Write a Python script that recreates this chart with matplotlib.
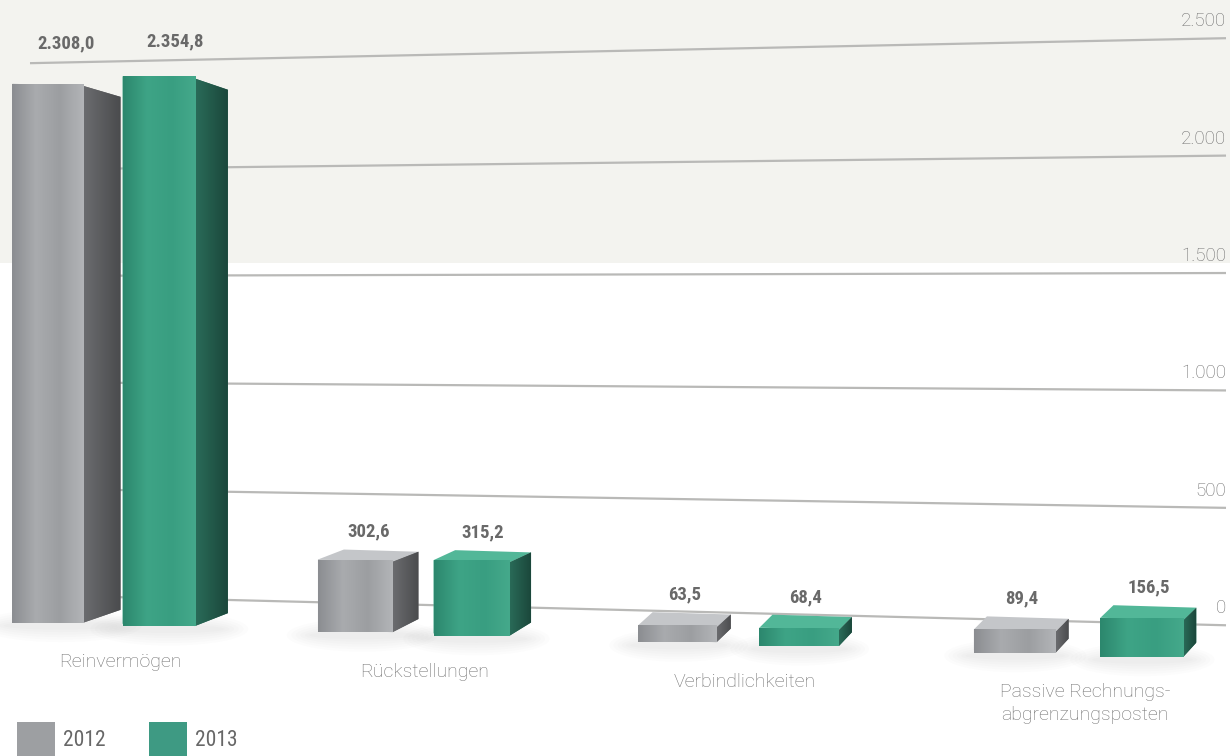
import math
import numpy as np
import matplotlib
matplotlib.use("Agg")
import matplotlib.pyplot as plt
from matplotlib import font_manager as fm
from matplotlib.patches import Polygon, Rectangle, Ellipse
from matplotlib.transforms import Affine2D
from matplotlib.colors import LinearSegmentedColormap

# ---------------------------------------------------------------- data
categories = ["Reinvermögen", "Rückstellungen", "Verbindlichkeiten",
              "Passive Rechnungs-\nabgrenzungsposten"]
years = ["2012", "2013"]
values_2012 = [2308.0, 302.6, 63.5, 89.4]
values_2013 = [2354.8, 315.2, 68.4, 156.5]
y_ticks = [0, 500, 1000, 1500, 2000, 2500]

# ---------------------------------------------------------------- fonts
names = {f.name for f in fm.fontManager.ttflist}
narrow_family, narrow_stretch = "DejaVu Sans", "condensed"
for cand in ["Liberation Sans Narrow", "Roboto Condensed", "Open Sans Condensed",
             "DejaVu Sans Condensed", "Noto Sans Condensed"]:
    if cand in names:
        narrow_family, narrow_stretch = cand, "normal"
        break
else:
    for fam in ["Roboto", "Open Sans", "Noto Sans", "DejaVu Sans"]:
        if any(f.name == fam and f.stretch in ("condensed", "semi-condensed", 500, 300)
               for f in fm.fontManager.ttflist):
            narrow_family = fam
            break
NARROW = dict(family=narrow_family, fontstretch=narrow_stretch)

# ---------------------------------------------------------------- styles
W, H, DPI = 1230, 756, 100
BAND = "#f3f3ef"
GRID = "#b9b9b7"
TXT = "#707070"
VAL = "#696969"
series_style = {
    "2012": dict(front=["#8b8d91", "#a9abae", "#9c9ea1", "#b3b5b8"],
                 side=["#6b6c6f", "#4a4b4d"], top="#c4c6c9", swatch="#9d9fa2"),
    "2013": dict(front=["#2c876d", "#3ea486", "#399e81", "#45a98b"],
                 side=["#2a6c59", "#1b473b"], top="#52b798", swatch="#3e9a83"),
}

fig = plt.figure(figsize=(W / DPI, H / DPI), dpi=DPI)
fig.patch.set_facecolor("white")

# pixel canvas (origin top-left) for background, grid and annotations
bg = fig.add_axes([0, 0, 1, 1])
bg.set_xlim(0, W)
bg.set_ylim(H, 0)
bg.axis("off")
pix = bg.transData

# shaded upper band
bg.add_patch(Rectangle((0, 0), W, 263, facecolor=BAND, edgecolor="none", zorder=0))


# receding floor grid: value v at horizontal pixel x
def grid_y(v, x):
    y0 = 600 + 17 * (x - 230) / 670
    s = 0.2164 + 0.0124 * (x - 230) / 670
    return y0 - s * v


GX0, GX1 = 30, 1226
for v in y_ticks:
    bg.plot([GX0, GX1], [grid_y(v, GX0), grid_y(v, GX1)], color=GRID, lw=1.6,
            solid_capstyle="butt", zorder=1)
    lab = f"{v:,.0f}".replace(",", ".")
    bg.text(GX1, grid_y(v, GX1) - 8, lab, ha="right", va="bottom", fontsize=13.5,
            color=TXT, family="Roboto", fontweight="light", zorder=2)

# ---------------------------------------------------------------- bars
ax = fig.add_axes([0, 0, 1, 1], facecolor="none")
ax.axis("off")

# category axis widens towards the right (perspective)
PA, PB = 302.5, 7.5


def persp_fwd(x):
    x = np.asarray(x, dtype=float)
    return PA * x + PB * x * x


def persp_inv(p):
    p = np.asarray(p, dtype=float)
    return (-PA + np.sqrt(np.maximum(PA * PA + 4 * PB * p, 0.0))) / (2 * PB)


ax.set_xscale("function", functions=(persp_fwd, persp_inv))
SCALE = 0.2325        # pixels per value unit
X0, BASE0 = 103.0, 620.0
ax.set_xlim(float(persp_inv(-X0)), float(persp_inv(W - X0)))
ax.set_ylim(-(H - BASE0) / SCALE, BASE0 / SCALE)
ax.set_autoscale_on(False)

# floor tilts down towards the right
T = ax.transData + Affine2D().skew(0, math.atan(-0.031))


def to_pix(pts):
    return pix.inverted().transform(T.transform(pts))


bw = 0.237
off = 0.183
xs = np.arange(len(categories))
VY, K = 333.0, 0.044   # vanishing height and depth factor


def hgrad(cols):
    cmap = LinearSegmentedColormap.from_list("g", cols)
    return cmap(np.linspace(0, 1, 256))[None, :, :]


group_boxes = [[None, None, []] for _ in categories]
for sidx, (yr, vals, sign) in enumerate([(years[0], values_2012, -1), (years[1], values_2013, 1)]):
    st = series_style[yr]
    rects = ax.bar(xs + sign * off, vals, width=bw, transform=T,
                   facecolor=st["front"][1], edgecolor="none", zorder=5)
    for i, (rect, v) in enumerate(zip(rects, vals)):
        x0d, x1d = rect.get_x(), rect.get_x() + rect.get_width()
        (xl, ybl), (xr, ybr), (_, ytr), (_, ytl) = to_pix(
            [(x0d, 0), (x1d, 0), (x1d, v), (x0d, v)])
        sw = max(13.0, 40 - 0.036 * xr)
        bt_r = ytr + K * (VY - ytr)
        bt_l = ytl + K * (VY - ytl)
        bb_r = ybr + K * (VY - ybr)

        # soft floor shadow
        cx = (xl + xr + sw) / 2
        for j in range(6):
            bg.add_patch(Ellipse((cx - 6, ybr + 3), (xr + sw - xl) * (1.05 + 0.09 * j),
                                 8 + 5 * j, facecolor="#a0a0a0", alpha=0.028,
                                 edgecolor="none", zorder=3))

        # top face (visible only below eye level)
        if bt_r < ytr:
            ax.add_patch(Polygon([(xl, ytl), (xr, ytr), (xr + sw, bt_r), (xl + sw, bt_l)],
                                 closed=True, transform=pix, facecolor=st["top"],
                                 edgecolor="none", zorder=4))
        # side face
        side = Polygon([(xr, ytr), (xr + sw, bt_r), (xr + sw, bb_r), (xr, ybr)],
                       closed=True, transform=pix, facecolor=st["side"][0],
                       edgecolor="none", zorder=4.5)
        ax.add_patch(side)
        im = ax.imshow(hgrad(st["side"]), extent=[xr, xr + sw, max(ybr, bb_r), min(ytr, bt_r)],
                       transform=pix, aspect="auto", interpolation="bilinear", zorder=4.6)
        im.set_clip_path(side)
        # front face gradient clipped to the bar
        im = ax.imshow(hgrad(st["front"]), extent=[xl, xr, max(ybl, ybr), min(ytl, ytr)],
                       transform=pix, aspect="auto", interpolation="bilinear", zorder=5.5)
        im.set_clip_path(rect)

        # value label
        top_vis = min(ytr, bt_r, ytl)
        lab_y = top_vis - 11
        g_top = grid_y(max(y_ticks), cx)
        if lab_y > g_top - 12 and top_vis < g_top + 60:
            lab_y = g_top - 10
        txt = f"{v:,.1f}".replace(",", "X").replace(".", ",").replace("X", ".")
        bg.text(cx, lab_y, txt, ha="center", va="bottom", fontsize=13.5, color=VAL,
                fontweight="bold", zorder=6, **NARROW)

        gb = group_boxes[i]
        if sidx == 0:
            gb[0] = xl
        else:
            gb[1] = xr + sw
        gb[2].append((ybl + ybr) / 2)

# category labels under each group
for name, (gl, gr, bases) in zip(categories, group_boxes):
    bg.text((gl + gr) / 2, np.mean(bases) + 30, name, ha="center", va="top",
            multialignment="center", linespacing=1.3, fontsize=14, color=TXT,
            family="Roboto", fontweight="light", zorder=6)

# legend swatches
for k, yr in enumerate(years):
    lx = 17 + 132 * k
    bg.add_patch(Rectangle((lx, 722), 38, 40, facecolor=series_style[yr]["swatch"],
                           edgecolor="none", zorder=6))
    bg.text(lx + 46, 740, yr, ha="left", va="center", fontsize=15.5, color="#676767",
            zorder=6, **NARROW)

fig.savefig("out.png", dpi=DPI, facecolor="white")
